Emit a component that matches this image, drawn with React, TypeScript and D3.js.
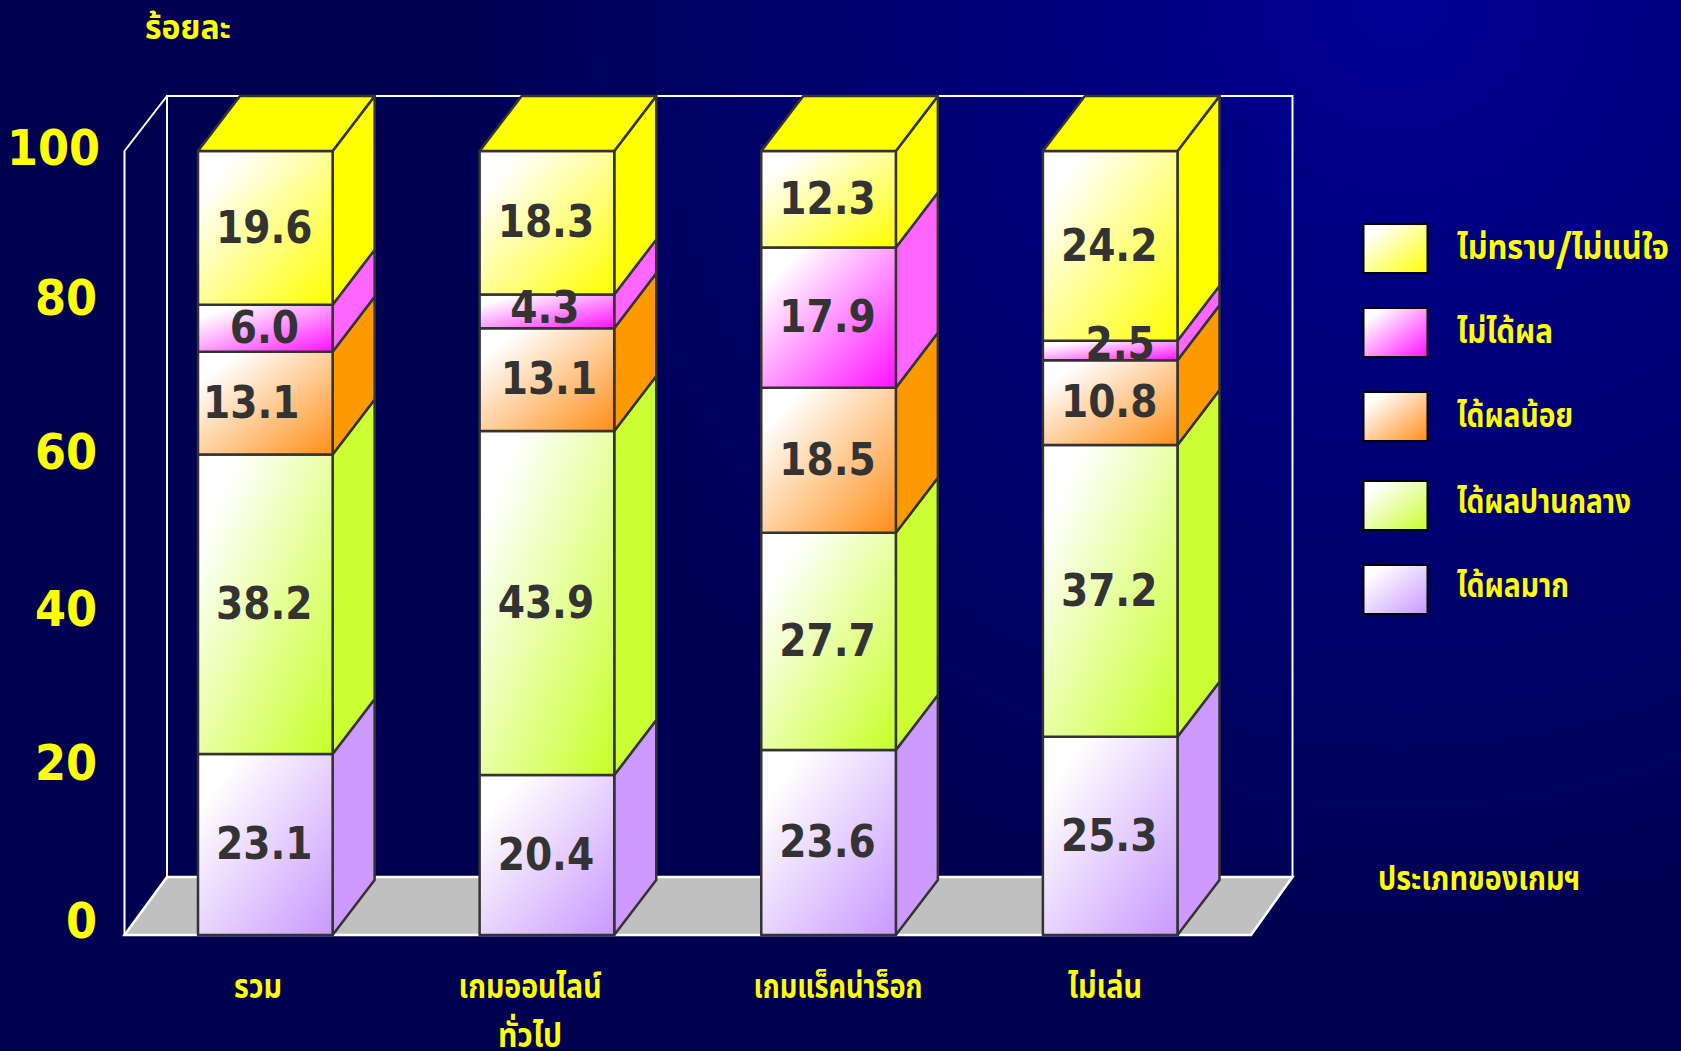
import React from "react";
import * as d3 from "d3";

const categories = ["รวม", "เกมออนไลน์|ทั่วไป", "เกมแร็คน่าร็อก", "ไม่เล่น"];
const seriesNames = ["ได้ผลมาก", "ได้ผลปานกลาง", "ได้ผลน้อย", "ไม่ได้ผล", "ไม่ทราบ/ไม่แน่ใจ"];
const sideColors = ["#CC99FF", "#CCFF33", "#FF9900", "#FF66FF", "#FFFF00"];
const frontColors = ["#C898FF", "#C8FF28", "#FF8E18", "#FF10FF", "#FFFF00"];
const strongEffect = [23.1, 20.4, 23.6, 25.3];
const moderateEffect = [38.2, 43.9, 27.7, 37.2];
const weakEffect = [13.1, 13.1, 18.5, 10.8];
const noEffect = [6.0, 4.3, 17.9, 2.5];
const unsure = [19.6, 18.3, 12.3, 24.2];
const yTicks = [0, 20, 40, 60, 80, 100];

const W = 1681;
const H = 1051;
const DX = 42;
const DY = 55;
const BASE = 935;
const TOP = 151;
const LEFT = 124.5;
const RIGHT = 1251;
const THAI = "'Noto Sans Thai','Noto Sans','DejaVu Sans',sans-serif";
const NUM = "'DejaVu Sans',sans-serif";

const x = d3.scaleBand<number>().domain(d3.range(categories.length)).range([LEFT, RIGHT]).paddingInner(0.522).paddingOuter(0.261);
const y = d3.scaleLinear().domain([0, 100]).range([BASE, TOP]);

const table = categories.map((_, i) => ({
  i,
  s0: strongEffect[i],
  s1: moderateEffect[i],
  s2: weakEffect[i],
  s3: noEffect[i],
  s4: unsure[i],
}));
const stacked = d3.stack<any>().keys(["s0", "s1", "s2", "s3", "s4"])(table);

// hand-placed data labels, keyed by series-category
const labelNudge: Record<string, [number, number]> = {
  "2-0": [-13, 0],
  "3-1": [-1, -3],
  "2-1": [3, 0],
  "3-3": [11, -6],
};
const tickY: Record<number, number> = { 0: 920, 20: 762, 40: 608, 60: 451, 80: 297, 100: 147 };
const legendRows = [
  { s: 4, top: 223, base: 259, w: 212 },
  { s: 3, top: 307, base: 343, w: 96 },
  { s: 2, top: 391, base: 427, w: 116 },
  { s: 1, top: 480, base: 513, w: 174 },
  { s: 0, top: 564, base: 597, w: 112 },
];
const catLabelX = [258, 530, 838, 1105];
const catLabelW = [[48], [143, 64], [169], [74]];

const pts = (p: number[][]) => p.map((q) => q.join(",")).join(" ");
const line = "#333333";
const thaiProps = { fontFamily: THAI, fontWeight: 700, fontSize: 33, fill: "#FFFF00", lengthAdjust: "spacingAndGlyphs" } as const;

export default function App() {
  return (
    <svg width={W} height={H} viewBox={`0 0 ${W} ${H}`} style={{ position: "absolute", left: 0, top: 0, display: "block" }}>
      <defs>
        <radialGradient id="bg" gradientUnits="userSpaceOnUse" cx={1400} cy={0} r={1000}>
          <stop offset="0" stopColor="#000094" />
          <stop offset="1" stopColor="#000050" />
        </radialGradient>
        {frontColors.map((c, i) => (
          <linearGradient key={i} id={`g${i}`} x1="0" y1="0" x2="1" y2="1">
            <stop offset="0" stopColor="#FFFFFF" />
            <stop offset="0.15" stopColor="#FFFFFF" />
            <stop offset="1" stopColor={c} />
          </linearGradient>
        ))}
      </defs>
      <rect width={W} height={H} fill="url(#bg)" />

      {/* walls and floor */}
      <polygon points={pts([[LEFT, BASE], [LEFT + DX + 0.5, BASE - 58], [1292.5, BASE - 58], [RIGHT, BASE]])} fill="#C0C0C0" stroke="#fff" strokeWidth={2.5} />
      <rect x={LEFT + DX + 0.5} y={96} width={1292.5 - LEFT - DX - 0.5} height={781} fill="none" stroke="#fff" strokeWidth={2} />
      <polyline points={pts([[LEFT, BASE], [LEFT, TOP], [LEFT + DX + 0.5, 96]])} fill="none" stroke="#fff" strokeWidth={2} />

      {/* stacked 3D columns */}
      {categories.map((_, c) => {
        const bx = x(c)!;
        const bw = x.bandwidth();
        return (
          <g key={c}>
            {stacked.map((layer, s) => {
              const y0 = y(layer[c][0]);
              const y1 = y(layer[c][1]);
              return (
                <g key={s} stroke={line} strokeWidth={2.5} strokeLinejoin="round">
                  <polygon points={pts([[bx + bw, y0], [bx + bw + DX, y0 - DY], [bx + bw + DX, y1 - DY], [bx + bw, y1]])} fill={sideColors[s]} />
                  <rect x={bx} y={y1} width={bw} height={y0 - y1} fill={`url(#g${s})`} />
                </g>
              );
            })}
            <polygon
              points={pts([[bx, y(100)], [bx + DX, y(100) - DY], [bx + bw + DX, y(100) - DY], [bx + bw, y(100)]])}
              fill={sideColors[4]}
              stroke={line}
              strokeWidth={2.5}
              strokeLinejoin="round"
            />
          </g>
        );
      })}

      {/* value labels */}
      {stacked.map((layer, s) =>
        layer.map((d, c) => {
          const value = d[1] - d[0];
          const [nx, ny] = labelNudge[`${s}-${c}`] ?? [0, 0];
          const lx = x(c)! + x.bandwidth() / 2 - 1 + nx;
          const ly = (y(d[0]) + y(d[1])) / 2 + ny - 1.5;
          return (
            <text
              key={`${s}-${c}`}
              transform={`translate(${lx},${ly}) scale(0.87,1)`}
              dy="0.36em"
              textAnchor="middle"
              fontFamily={NUM}
              fontWeight={700}
              fontSize={45}
              fill={line}
            >
              {value.toFixed(1)}
            </text>
          );
        })
      )}

      {/* value axis */}
      {yTicks.map((t) => (
        <text
          key={t}
          transform={`translate(${t === 100 ? 100 : 97},${tickY[t]}) scale(0.91,1)`}
          dy="0.36em"
          textAnchor="end"
          fontFamily={NUM}
          fontWeight={700}
          fontSize={49}
          fill="#FFFF00"
        >
          {t}
        </text>
      ))}
      <text x={145} y={39} textLength={86} {...thaiProps}>ร้อยละ</text>

      {/* category labels */}
      {categories.map((c, i) =>
        c.split("|").map((part, k) => (
          <text key={k} x={catLabelX[i]} y={998 + k * 49} textAnchor="middle" textLength={catLabelW[i][k]} {...thaiProps}>
            {part}
          </text>
        ))
      )}
      <text x={1378} y={890} textLength={202} {...thaiProps}>ประเภทของเกมฯ</text>

      {/* legend */}
      {legendRows.map(({ s, top, base, w }) => {
        const [before, after] = seriesNames[s].split("/");
        return (
          <g key={s}>
            <rect x={1363.5} y={top + 1} width={64} height={49} fill={`url(#g${s})`} stroke="#000" strokeWidth={2} />
            <text x={1457} y={base} textLength={w} {...thaiProps}>
              {before}
              {after !== undefined && (
                <>
                  <tspan dy={6} fontFamily={NUM} fontSize={46}>/</tspan>
                  <tspan dy={-6}>{after}</tspan>
                </>
              )}
            </text>
          </g>
        );
      })}
    </svg>
  );
}
